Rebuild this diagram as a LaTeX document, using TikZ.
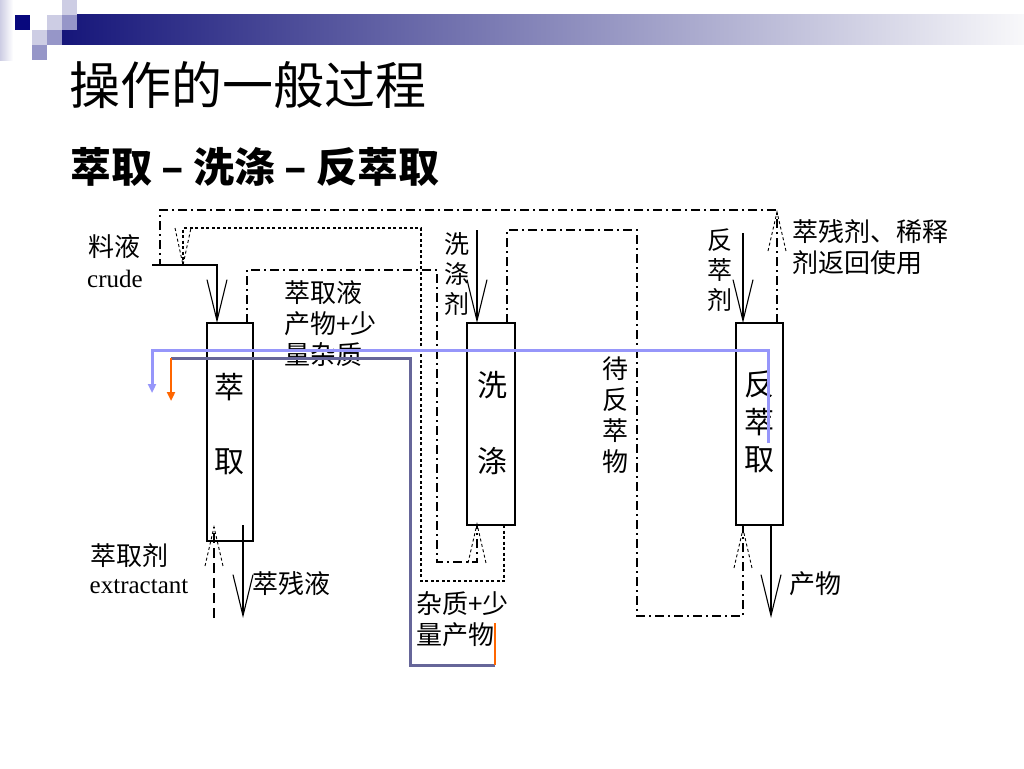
\documentclass[tikz,border=0pt]{standalone}
\usepackage{fontspec}
\setmainfont{Liberation Serif}
\newfontfamily\cjk{Noto Sans CJK SC}
\usetikzlibrary{arrows.meta}
\definecolor{navyL}{RGB}{22,22,122}
\definecolor{navyD}{RGB}{8,8,125}
\definecolor{lavA}{RGB}{205,205,228}
\definecolor{lavB}{RGB}{150,150,200}
\definecolor{lblue}{RGB}{150,150,250}
\definecolor{slateL}{RGB}{102,102,153}
\definecolor{orangeL}{RGB}{255,102,0}
\definecolor{fadeW}{RGB}{248,248,250}
\tikzset{
  barbup/.pic={\draw[line width=0.9pt, dash pattern=on 3pt off 2.5pt] (-9,39) -- (0,0) -- (9,39);},
  barbdown/.pic={\draw[line width=0.9pt, dash pattern=on 3pt off 2.5pt] (-8,-37) -- (0,0) -- (8,-37);}
}
\begin{document}
\begin{tikzpicture}[x=1pt,y=-1pt,
  every node/.style={inner sep=0pt, outer sep=0pt},
  box/.style={draw, line width=1.1pt, fill=white},
  lab/.style={font=\cjk\fontsize{26}{31}\selectfont, align=left},
  vlab/.style={font=\cjk\fontsize{25}{30}\selectfont, align=center},
  boxtxt/.style={font=\cjk\fontsize{30}{36}\selectfont},
  lat/.style={font=\fontsize{25}{30}\selectfont},
  flow/.style={line width=1.1pt},
  barb/.style={flow, -{Straight Barb[length=41pt,width=20pt]}},
  dashdot/.style={flow, dash pattern=on 9pt off 4pt on 2pt off 4pt},
  finedash/.style={flow, dash pattern=on 3pt off 2.5pt},
  longdash/.style={flow, dash pattern=on 10pt off 5pt},
  hilite/.style={line width=3pt},
  smalltip/.style={-{Triangle[length=9pt,width=8pt]}}
]
\useasboundingbox (0,0) rectangle (1024,768);
\fill[white] (0,0) rectangle (1024,768);

% header logo
\shade[left color=lavA, right color=white] (0,0) rectangle (13,60);
\shade[left color=navyL, right color=fadeW] (62,15) rectangle (1024,45);
\fill[navyD] (15,15) rectangle (30,30);
\fill[lavA] (47,15) rectangle (62,30);
\fill[lavB] (62,15) rectangle (77,30);
\fill[lavA] (62,0) rectangle (77,15);
\fill[lavA] (32,30) rectangle (47,45);
\fill[lavB] (47,30) rectangle (62,45);
\fill[lavB] (32,45) rectangle (47,60);

% titles
\node[anchor=west, font=\cjk\fontsize{51}{60}\selectfont] (title) at (69,85) {操作的一般过程};
\node[anchor=west, font=\cjk\bfseries\fontsize{41}{48}\selectfont] (sub) at (70,167) {萃取 – 洗涤 – 反萃取};

% boxes
\node[box, minimum width=46pt, minimum height=218pt] (b1) at (230,432) {};
\node[box, minimum width=48pt, minimum height=202pt] (b2) at (491,424) {};
\node[box, minimum width=47pt, minimum height=202pt] (b3) at (759.5,424) {};
\node[boxtxt] (t1a) at (229,387) {萃};
\node[boxtxt] (t1b) at (229,462) {取};
\node[boxtxt] (t2a) at (492,385) {洗};
\node[boxtxt] (t2b) at (492,461) {涤};
\node[boxtxt] (t3a) at (759,384) {反};
\node[boxtxt] (t3b) at (759,422) {萃};
\node[boxtxt] (t3c) at (759,460) {取};

% free ends
\coordinate (feedin) at (152,265);
\coordinate (washin) at (477,230);
\coordinate (stripin) at (743,233);
\coordinate (prodout) at (771,618);
\coordinate (raffout) at (243,618);
\coordinate (extin) at (214,618);
\coordinate (recyc) at (160,265);
\coordinate (washret) at (183,265);

% feed, wash, strip agent inputs
\draw[barb] (feedin) -| ([xshift=10pt]b1.north west);
\draw[barb] (washin) -- ([xshift=10pt]b2.north west);
\draw[barb] (stripin) -- ([xshift=7pt]b3.north west);
% outputs
\draw[barb] ([xshift=-12pt]b3.south east) -- (prodout);
\draw[barb] ([xshift=-10pt,yshift=16pt]b1.south east) -- (raffout);
% extractant input
\draw[longdash] (extin) -- ([xshift=7pt,yshift=14pt]b1.south west);
\pic at ([xshift=7pt,yshift=14pt]b1.south west) {barbup};

% recycle of raffinate solvent
\draw[dashdot] ([xshift=-6pt]b3.north east) |- (160,210) -- (recyc);
\pic at (777,212) {barbup};
% wash return
\draw[finedash] ([xshift=-11pt]b2.south east) |- (421,581) |- (183,228) -- (washret);
\pic at (washret) {barbdown};
% extract to washing
\draw[dashdot] ([xshift=-6pt]b1.north east) |- (437,270) |- (477,562) -- ([xshift=10pt]b2.south west);
\pic at ([xshift=10pt,yshift=1pt]b2.south west) {barbup};
% washed extract to stripping
\draw[dashdot] ([xshift=-8pt]b2.north east) |- (637,230) |- (743,616) -- ([xshift=7pt]b3.south west);
\pic at ([xshift=7pt,yshift=-4pt]b3.south west) {barbup};

% labels
\node[lab] (lfeed) at (114,247) {料液};
\node[lat] (lcrude) at (115,279) {crude};
\node[lab] (lext) at (129,556) {萃取剂};
\node[lat] (lextr) at (139,587) {extractant};
\node[lab] (lraff) at (291,584) {萃残液};
\node[lab, anchor=north west] (lextract) at (284,281) {萃取液\\产物+少\\量杂质};
\node[lab, anchor=north west] (limp) at (416,592) {杂质+少\\量产物};
\node[vlab] (lwash) at (457,274) {洗\\涤\\剂};
\node[vlab] (lstrip) at (720,270) {反\\萃\\剂};
\node[lab, align=center, font=\cjk\fontsize{26}{31}\selectfont] (lwait) at (615,415) {待\\反\\萃\\物};
\node[lab, anchor=north west] (lrec) at (792,220) {萃残剂、稀释\\剂返回使用};
\node[lab] (lprod) at (815,584) {产物};

% highlight lines
\coordinate (lbS) at (768,443);
\coordinate (lbE) at (152,393);
\draw[lblue, hilite, smalltip] (lbS) |- (152,350) -- (lbE);
\coordinate (slS) at (495,665);
\coordinate (slC) at (171,358);
\coordinate (orS) at (495,623);
\coordinate (orE) at (171,401);
\draw[slateL, hilite] (slS) -| (410,358) -- (slC);
\draw[orangeL, line width=2.5pt, smalltip] (slC) -- (orE);
\draw[orangeL, line width=2.5pt] (orS) -- (slS);
\end{tikzpicture}
\end{document}
